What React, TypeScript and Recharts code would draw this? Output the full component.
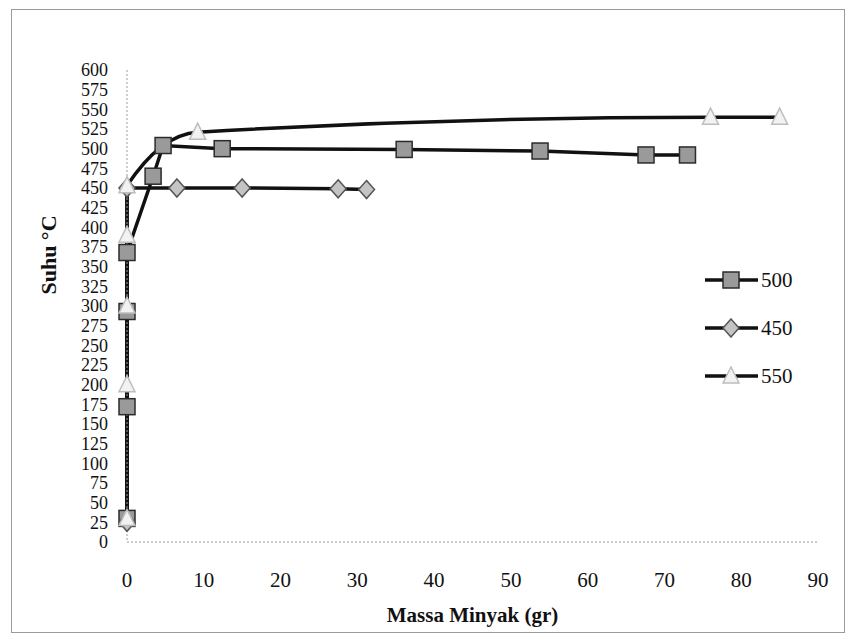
import React from 'react';
import { LineChart, Line, XAxis, YAxis, Label } from 'recharts';

// Massa minyak (gr) vs suhu (°C) per run temperature
const massa500 = [0, 0, 0, 0, 3.4, 4.7, 12.4, 36.1, 53.8, 67.6, 73];
const suhu500 = [30, 172, 293, 368, 465, 504, 500, 499, 497, 492, 492];
const massa450 = [0, 0, 6.5, 15, 27.5, 31.2];
const suhu450 = [25, 450, 450, 450, 449, 448];
const massa550 = [0, 0, 0, 0, 0, 9.2, 76, 85];
const suhu550 = [30, 200, 300, 390, 453, 521, 540, 540];

const xTicks = [0, 10, 20, 30, 40, 50, 60, 70, 80, 90];
const yTicks = [0, 25, 50, 75, 100, 125, 150, 175, 200, 225, 250, 275, 300, 325, 350, 375, 400, 425, 450, 475, 500, 525, 550, 575, 600];
const seriesNames = ['500', '450', '550'];

const pts = (xs: number[], ys: number[]) => xs.map((x, i) => ({ x, y: ys[i] }));

const FONT = '"Liberation Serif", "Times New Roman", serif';

type MarkerKind = 'square' | 'diamond' | 'triangle';

const Marker = ({ kind, cx, cy }: { kind: MarkerKind; cx: number; cy: number }) => {
  if (kind === 'square') {
    return <rect x={cx - 8} y={cy - 8} width={16} height={16} fill="#9a9a9a" stroke="#2b2b2b" strokeWidth={1.5} />;
  }
  if (kind === 'diamond') {
    return (
      <polygon
        points={`${cx},${cy - 9} ${cx + 8},${cy} ${cx},${cy + 9} ${cx - 8},${cy}`}
        fill="#c4c4c4"
        stroke="#555"
        strokeWidth={1.5}
      />
    );
  }
  return (
    <polygon
      points={`${cx},${cy - 9} ${cx + 8},${cy + 7} ${cx - 8},${cy + 7}`}
      fill="#f2f2f2"
      stroke="#bdbdbd"
      strokeWidth={1.5}
    />
  );
};

const dotFor = (kind: MarkerKind) => (props: any) => (
  <Marker key={`${kind}-${props.index}`} kind={kind} cx={props.cx} cy={props.cy} />
);

const kinds: MarkerKind[] = ['square', 'diamond', 'triangle'];

const LegendBox = () => (
  <div style={{ position: 'absolute', left: 697, top: 248, fontFamily: FONT, fontSize: 21, color: '#111' }}>
    {seriesNames.map((name, i) => (
      <div key={name} style={{ display: 'flex', alignItems: 'center', height: 48 }}>
        <svg width={56} height={20}>
          <line x1={0} y1={10} x2={53} y2={10} stroke="#111" strokeWidth={3.5} />
          <Marker kind={kinds[i]} cx={26} cy={10} />
        </svg>
        <span>{name}</span>
      </div>
    ))}
  </div>
);

const App = () => {
  return (
    <div style={{ position: 'relative', width: 845, height: 634 }}>
      <div
        style={{
          position: 'absolute',
          left: 3,
          top: 1,
          width: 832,
          height: 622,
          border: '1px solid #9a9a9a',
        }}
      />
      <LineChart width={845} height={634} margin={{ top: 62, right: 35, bottom: 0, left: 0 }}>
        <XAxis
          type="number"
          dataKey="x"
          domain={[0, 90]}
          ticks={xTicks}
          interval={0}
          height={100}
          tickSize={0}
          tickMargin={30}
          axisLine={{ stroke: '#9a9a9a', strokeDasharray: '2 2' }}
          tick={{ fill: '#111', fontSize: 21, fontFamily: FONT }}
        >
          <Label
            value="Massa Minyak (gr)"
            position="insideBottom"
            offset={20}
            style={{ fill: '#111', fontSize: 21, fontWeight: 'bold', fontFamily: FONT }}
          />
        </XAxis>
        <YAxis
          type="number"
          domain={[0, 600]}
          ticks={yTicks}
          interval={0}
          width={119}
          tickSize={0}
          tickMargin={19}
          axisLine={{ stroke: '#9a9a9a', strokeDasharray: '2 2' }}
          tick={{ fill: '#111', fontSize: 18, fontFamily: FONT }}
        >
          <Label
            content={() => (
              <text
                x={40}
                y={247}
                transform="rotate(-90 40 247)"
                textAnchor="middle"
                dominantBaseline="central"
                style={{ fill: '#111', fontSize: 22, fontWeight: 'bold', fontFamily: FONT }}
              >
                Suhu °C
              </text>
            )}
          />
        </YAxis>
        <Line
          data={pts(massa500, suhu500)}
          dataKey="y"
          name="500"
          type="linear"
          stroke="#111"
          strokeWidth={3.5}
          dot={dotFor('square')}
          isAnimationActive={false}
        />
        <Line
          data={pts(massa450, suhu450)}
          dataKey="y"
          name="450"
          type="linear"
          stroke="#111"
          strokeWidth={3.5}
          dot={dotFor('diamond')}
          isAnimationActive={false}
        />
        <Line
          data={pts(massa550, suhu550)}
          dataKey="y"
          name="550"
          type="monotone"
          stroke="#111"
          strokeWidth={3.5}
          dot={dotFor('triangle')}
          isAnimationActive={false}
        />
      </LineChart>
      <LegendBox />
    </div>
  );
};

export default App;
